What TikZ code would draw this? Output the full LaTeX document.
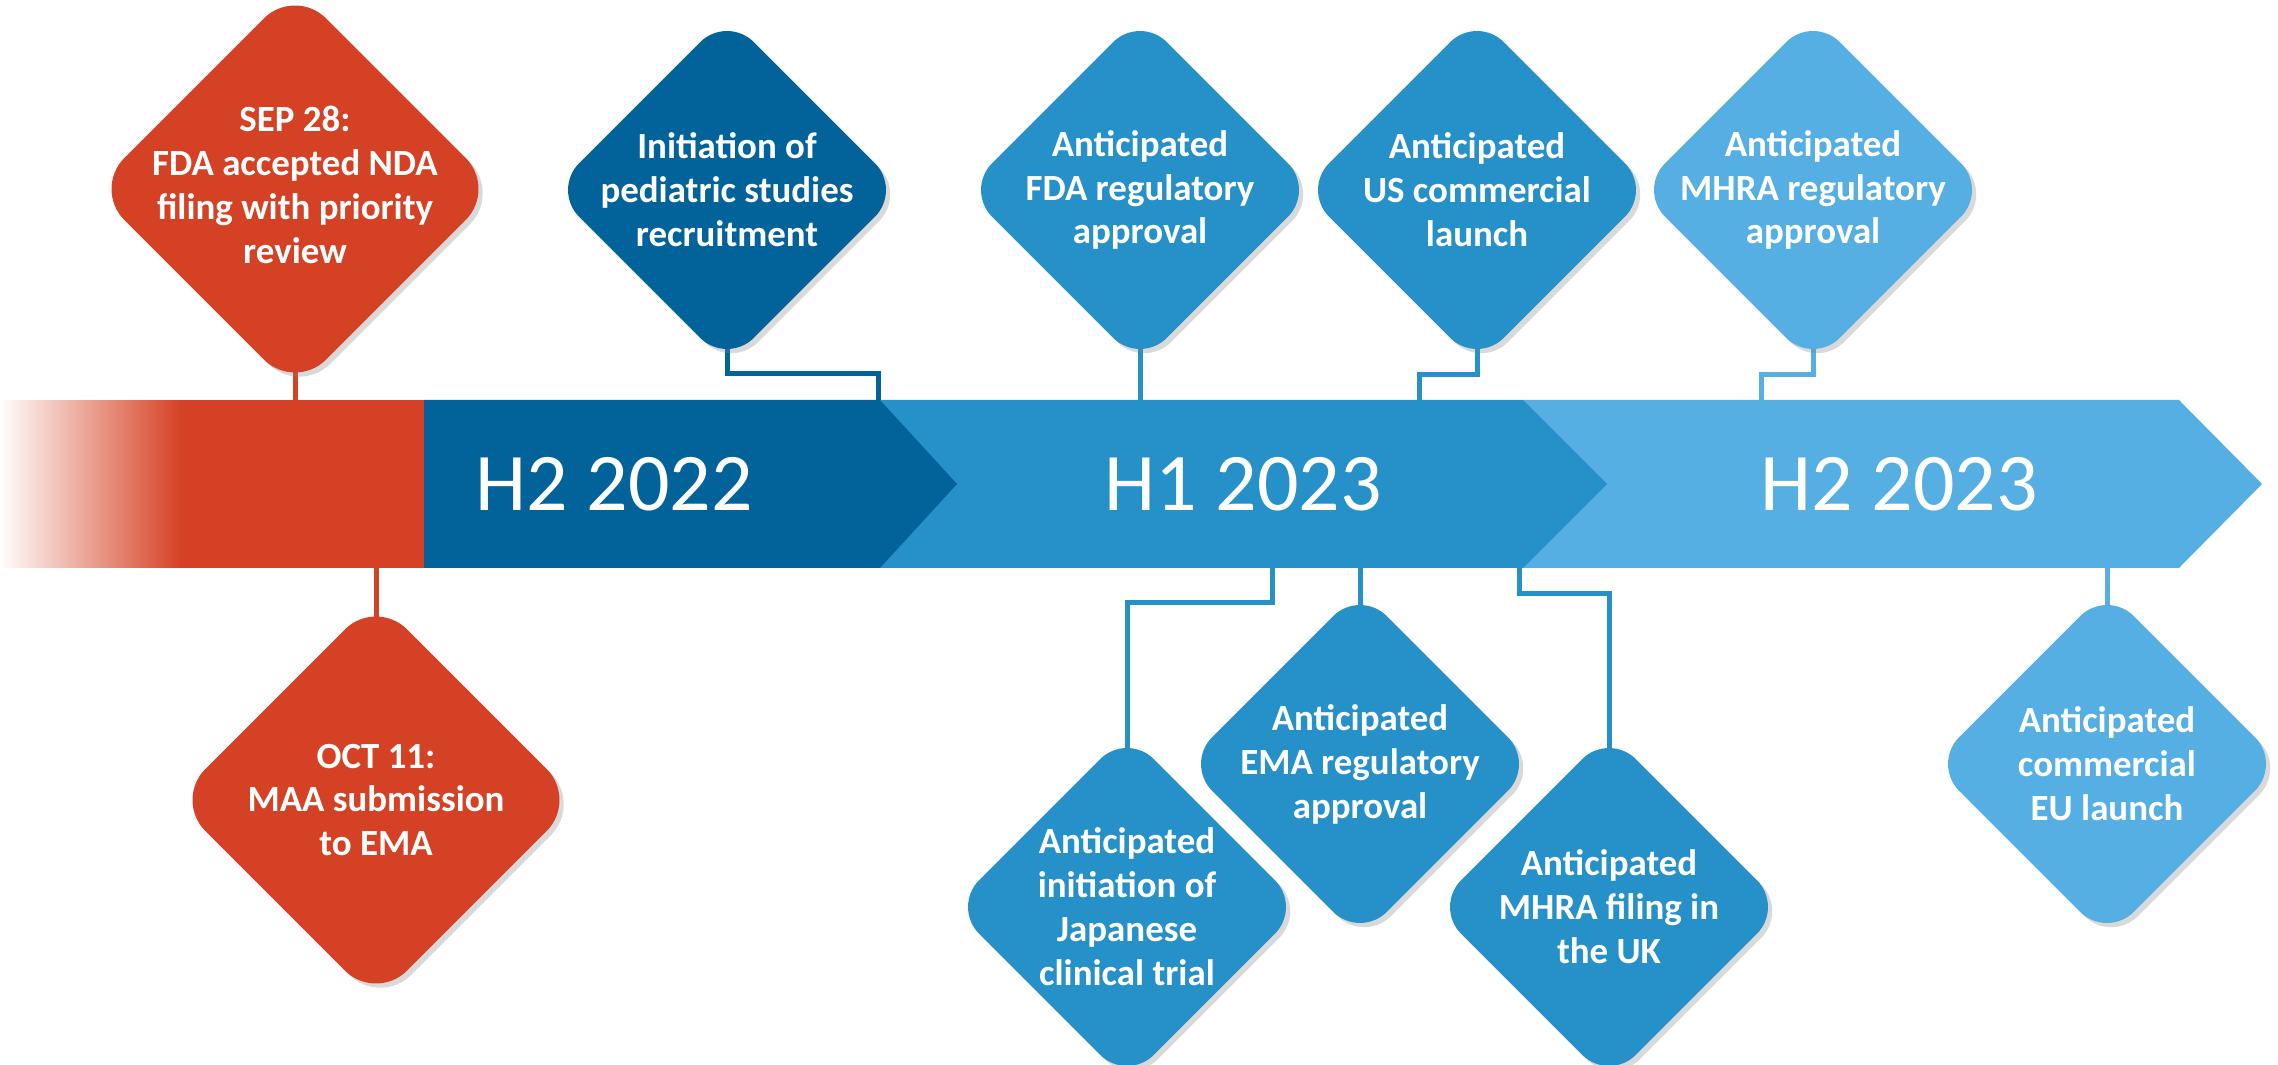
\documentclass[tikz,border=0pt]{standalone}
\usepackage{fontspec}
\setmainfont{Carlito}
\usetikzlibrary{shapes.geometric,shadows,backgrounds,fadings}
\definecolor{msred}{HTML}{D54124}
\definecolor{msdark}{HTML}{02639B}
\definecolor{msmid}{HTML}{2690C9}
\definecolor{mslight}{HTML}{56AFE2}

\begin{document}
\begin{tikzpicture}[x=0.1mm, y=-0.1mm,
    mile/.style={diamond, aspect=1, minimum width=35mm, minimum height=35mm,
      inner sep=0pt, rounded corners=3.8mm,
      drop shadow={opacity=0.3, shadow xshift=1.2pt, shadow yshift=-1.2pt}},
    bigmile/.style={mile, minimum width=40.4mm, minimum height=40.4mm, rounded corners=4.4mm},
    txt/.style={text=white, align=center, inner sep=0pt,
      font=\bfseries\fontsize{10.5pt}{12.5pt}\selectfont},
    bartxt/.style={text=white, inner sep=0pt, font=\fontsize{23.3pt}{28pt}\selectfont},
    link/.style={line width=0.5mm}]
  \useasboundingbox (0,0) rectangle (2278,1065);

  % milestones above the bar
  \node[bigmile, fill=msred] (sep) at (295,189)
    {}; \node[txt] (sepT) at (295,185) {SEP 28:\\FDA accepted NDA\\filing with priority\\review};
  \node[mile, fill=msdark] (ped) at (727,190)
    {}; \node[txt] (pedT) at (ped) {Initiation of\\pediatric studies\\recruitment};
  \node[mile, fill=msmid] (fda) at (1140,190)
    {}; \node[txt] (fdaT) at (fda) {Anticipated\\FDA regulatory\\approval};
  \node[mile, fill=msmid] (us) at (1477,190)
    {}; \node[txt] (usT) at (us) {Anticipated\\US commercial\\launch};
  \node[mile, fill=mslight] (mhra) at (1813,190)
    {}; \node[txt] (mhraT) at (mhra) {Anticipated\\MHRA regulatory\\approval};

  % milestones below the bar
  \node[bigmile, fill=msred] (oct) at (376,800)
    {}; \node[txt] (octT) at (oct) {OCT 11:\\MAA submission\\to EMA};
  \node[mile, fill=msmid] (jap) at (1127,907)
    {}; \node[txt] (japT) at (jap) {Anticipated\\initiation of\\Japanese\\clinical trial};
  \node[mile, fill=msmid] (ema) at (1360,764)
    {}; \node[txt] (emaT) at (ema) {Anticipated\\EMA regulatory\\approval};
  \node[mile, fill=msmid] (uk) at (1609,907)
    {}; \node[txt] (ukT) at (uk) {Anticipated\\MHRA filing in\\the UK};
  \node[mile, fill=mslight] (eu) at (2107,764)
    {}; \node[txt] (euT) at (eu) {Anticipated\\commercial\\EU launch};

  \coordinate (barT) at (0,400);
  \coordinate (barB) at (0,568);
  \coordinate (pedEnd) at (878,400);
  \coordinate (usEnd) at (1419,400);
  \coordinate (mhraEnd) at (1761,400);
  \coordinate (japStart) at (1272,568);
  \coordinate (ukStart) at (1519,568);

  \begin{scope}[on background layer]
    % the time bar
    \fill[mslight] (1523,400) -- (2179,400) -- (2262,484) -- (2179,568) -- (1523,568) -- cycle;
    \fill[msmid] (880,400) -- (1523,400) -- (1607,484) -- (1523,568) -- (880,568) -- cycle;
    \fill[msdark] (424,400) -- (880,400) -- (957,484) -- (880,568) -- (424,568) -- cycle;
    \fill[msred] (0,400) rectangle (424,568);
    \fill[white, path fading=east] (0,400) rectangle (182,568);

    % links
    \draw[link, msred] (sep.center) -- (sep.center |- barT);
    \draw[link, msred] (oct.center) -- (oct.center |- barB);
    \draw[link, msdark] (ped.center) -- ++(0,184) -| (pedEnd);
    \draw[link, msmid] (fda.center) -- (fda.center |- barT);
    \draw[link, msmid] (us.center) -- ++(0,185) -| (usEnd);
    \draw[link, mslight] (mhra.center) -- ++(0,185) -| (mhraEnd);
    \draw[link, msmid] (japStart) -- ++(0,35) -| (jap.center);
    \draw[link, msmid] (ema.center) -- (ema.center |- barB);
    \draw[link, msmid] (ukStart) -- ++(0,26) -| (uk.center);
    \draw[link, mslight] (eu.center) -- (eu.center |- barB);
  \end{scope}

  \node[bartxt] (h2a) at (614,484) {H2 2022};
  \node[bartxt] (h1b) at (1243,484) {H1 2023};
  \node[bartxt] (h2b) at (1899,484) {H2 2023};
\end{tikzpicture}
\end{document}
